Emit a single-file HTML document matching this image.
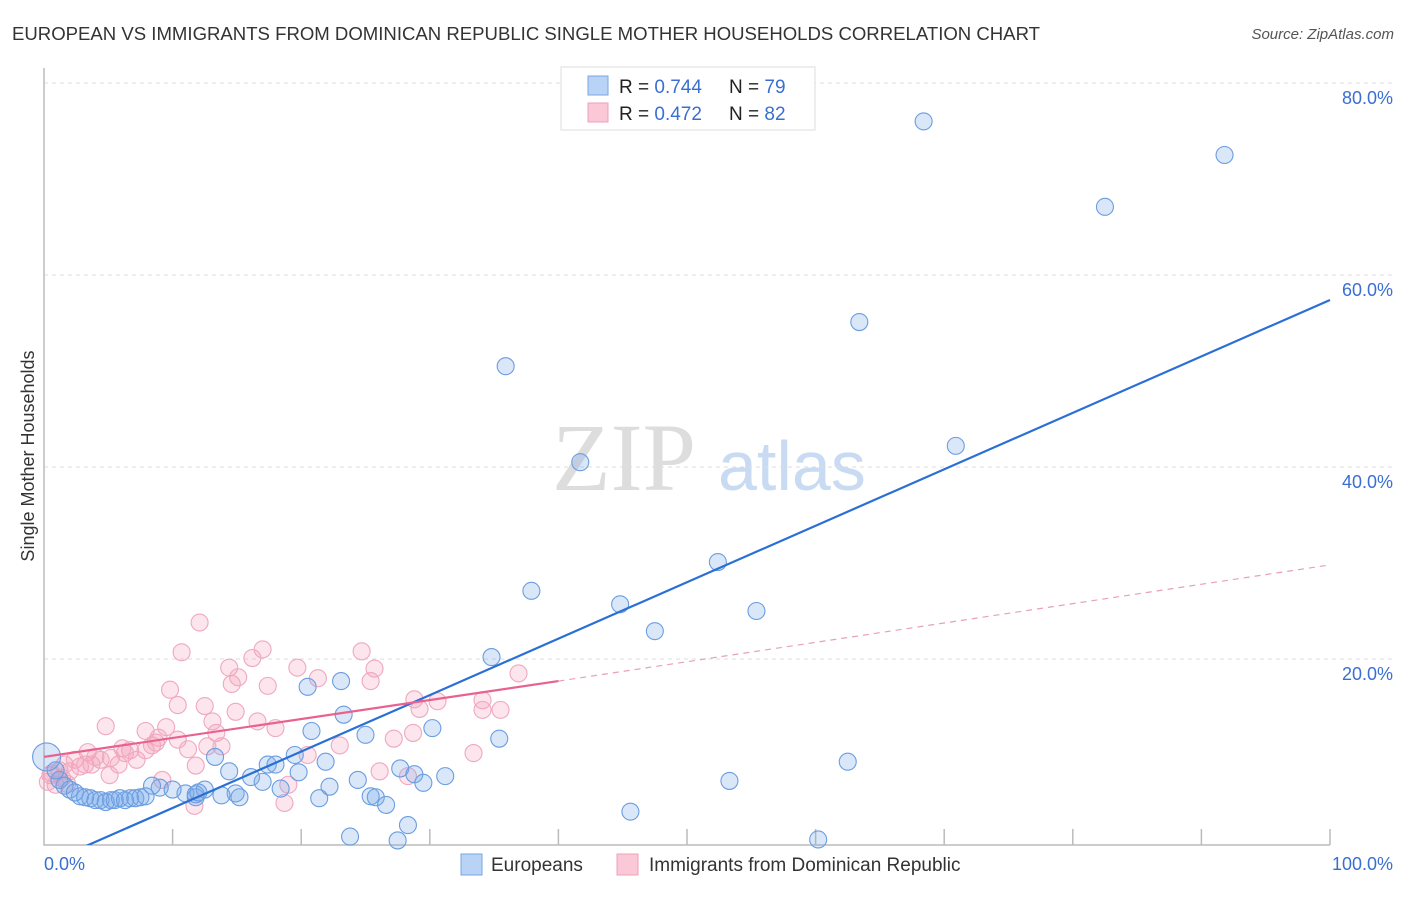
<!DOCTYPE html>
<html><head><meta charset="utf-8"><style>
body{margin:0;background:#fff;width:1406px;height:892px;overflow:hidden;font-family:"Liberation Sans",sans-serif}
</style></head><body>
<svg id="chart" width="1406" height="892" xmlns="http://www.w3.org/2000/svg" font-family="Liberation Sans, sans-serif">
<text x="12" y="40" font-size="18.5" fill="#333" textLength="1028" lengthAdjust="spacingAndGlyphs">EUROPEAN VS IMMIGRANTS FROM DOMINICAN REPUBLIC SINGLE MOTHER HOUSEHOLDS CORRELATION CHART</text>
<text x="1394" y="39" font-size="15" font-style="italic" fill="#555" text-anchor="end">Source: ZipAtlas.com</text>
<g>
<text x="552" y="490" font-size="96" font-family="Liberation Serif, serif" fill="#ddd">ZIP</text>
<text x="718" y="490" font-size="70" fill="#c9dbf2">atlas</text>
</g>
<g id="grid"></g>
<g id="axes"></g>
<g id="pts"></g>
<g id="lines"></g>
<text transform="translate(34,456) rotate(-90)" font-size="18" fill="#333" text-anchor="middle">Single Mother Households</text>
<text x="44" y="870" font-size="18" fill="#3a6fd0">0.0%</text>
<text x="1393" y="870" font-size="18" fill="#3a6fd0" text-anchor="end">100.0%</text>
<g>
<rect x="561" y="67" width="254" height="63" fill="#fff" stroke="#ddd"/>
<rect x="588" y="76" width="20" height="19" fill="#b8d3f5" stroke="#7aa7e0"/>
<rect x="588" y="103" width="20" height="19" fill="#fac8d6" stroke="#eea0b8"/>
<text x="619" y="93" font-size="19" fill="#222">R = <tspan fill="#3a6fd0">0.744</tspan></text>
<text x="729" y="93" font-size="19" fill="#222">N = <tspan fill="#3a6fd0">79</tspan></text>
<text x="619" y="120" font-size="19" fill="#222">R = <tspan fill="#3a6fd0">0.472</tspan></text>
<text x="729" y="120" font-size="19" fill="#222">N = <tspan fill="#3a6fd0">82</tspan></text>
</g>
<g>
<rect x="461" y="854" width="21" height="21" fill="#b8d3f5" stroke="#7aa7e0"/>
<text x="491" y="871" font-size="19" fill="#333">Europeans</text>
<rect x="617" y="854" width="21" height="21" fill="#fac8d6" stroke="#eea0b8"/>
<text x="649" y="871" font-size="19" fill="#333">Immigrants from Dominican Republic</text>
</g>
</svg>
<script>
const yTicks=[20,40,60,80];
const yTickLabels=["20.0%","40.0%","60.0%","80.0%"];
const xTicks=[10,20,30,40,50,60,70,80,90,100];
const euroX=[68.4,91.8,82.5,63.4,35.9,70.9,41.7,52.4,37.9,44.8,55.4,47.5,34.8,20.5,23.1,23.3,30.2,20.8,25.0,35.4,19.5,21.9,13.3,17.4,18.0,14.4,19.8,16.1,17.0,27.7,28.8,31.2,24.4,29.5,53.3,62.5,18.4,22.2,14.9,11.0,12.5,9.0,8.4,10.0,11.8,13.8,15.2,25.4,25.8,26.6,21.4,45.6,28.3,23.8,27.5,60.2,1.2,2.0,2.8,3.6,4.4,5.2,5.9,6.7,7.5,0.9,1.6,2.4,3.2,4.0,4.8,5.5,6.3,7.1,7.9,11.8,12.0];
const euroY=[76.0,72.5,67.1,55.1,50.5,42.2,40.5,30.1,27.1,25.7,25.0,22.9,20.2,17.1,17.7,14.2,12.8,12.5,12.1,11.7,10.0,9.3,9.8,9.0,9.0,8.3,8.2,7.7,7.2,8.6,8.0,7.8,7.4,7.1,7.3,9.3,6.5,6.7,6.0,6.0,6.4,6.6,6.8,6.4,5.6,5.8,5.6,5.7,5.6,4.8,5.5,4.1,2.7,1.5,1.1,1.2,7.4,6.4,5.7,5.5,5.3,5.3,5.5,5.5,5.6,8.4,6.8,6.1,5.6,5.3,5.1,5.3,5.3,5.5,5.7,5.9,6.1];
const domX=[12.1,10.7,17.0,24.7,16.2,14.4,19.7,21.3,25.7,9.8,15.1,14.6,25.4,17.4,12.5,10.4,28.8,30.6,34.1,36.9,29.2,34.1,35.5,4.8,9.5,13.1,16.6,18.0,14.9,7.9,8.9,8.4,10.4,11.2,13.4,12.7,13.8,23.0,28.7,27.2,20.5,6.1,6.7,7.2,5.8,4.4,3.7,3.4,5.1,11.8,26.1,9.2,11.7,18.7,19.0,28.3,33.4,1.2,0.5,0.9,1.6,2.0,2.8,2.4,3.2,4.0,5.2,7.9,8.7,6.3,0.3,1.4,1.8,0.6];
const domY=[23.8,20.7,21.0,20.8,20.1,19.1,19.1,18.0,19.0,16.8,18.1,17.4,17.7,17.2,15.1,15.2,15.8,15.6,15.7,18.5,14.8,14.7,14.7,13.0,12.9,13.5,13.5,12.8,14.5,12.5,11.8,11.0,11.6,10.6,12.3,10.9,10.9,11.0,12.3,11.7,10.0,10.7,10.5,9.5,9.0,9.5,9.0,10.3,7.9,8.9,8.3,7.4,4.7,5.0,6.9,7.8,10.2,8.4,7.9,6.9,9.0,8.3,8.8,9.5,9.0,9.8,9.7,10.5,11.3,10.2,7.2,7.6,7.0,8.1];
const euroTrend=[[0,-1.4],[100,57.4]];
const domTrendSolid=[[0,9.8],[40,17.7]];
const domTrendDash=[[40,17.7],[100,29.8]];
const NS='http://www.w3.org/2000/svg';
const X=v=>44+v*12.86, Y=v=>851-v*9.6;
function mk(tag,attrs,parent){const e=document.createElementNS(NS,tag);for(const k in attrs)e.setAttribute(k,attrs[k]);document.getElementById(parent).appendChild(e);return e;}
yTicks.forEach((t,i)=>{
 const g=mk('line',{x1:44,x2:1394,y1:Y(t),y2:Y(t),stroke:'#ddd','stroke-dasharray':'4,4'},'grid');
 
 
 const l=mk('text',{x:1393,y:Y(t)+21,'font-size':18,fill:'#3a6fd0','text-anchor':'end'},'grid');
 l.textContent=yTickLabels[i];
 
 
});
const ax=mk('path',{d:'M44 68 V845 H1330',stroke:'#bbb',fill:'none','stroke-width':1.5},'axes');


xTicks.forEach(t=>{
 const k=mk('line',{x1:X(t),x2:X(t),y1:829,y2:845,stroke:'#bbb','stroke-width':1.5},'axes');
 
 
});
domX.forEach((x,i)=>{
 const c=mk('circle',{cx:X(x),cy:Y(domY[i]),r:8.5,fill:'rgba(244,160,188,0.28)',stroke:'#efa8bf','stroke-width':1.1},'pts');
 
 
});
euroX.forEach((x,i)=>{
 const c=mk('circle',{cx:X(x),cy:Y(euroY[i]),r:8.5,fill:'rgba(120,170,232,0.28)',stroke:'#6b9de0','stroke-width':1.1},'pts');
 
 
});
const big=mk('circle',{cx:X(0.2),cy:Y(9.8),r:14,fill:'rgba(120,170,232,0.28)',stroke:'#6b9de0','stroke-width':1.1},'pts');


function line(p,st,w,dash,name){
 const a={x1:X(p[0][0]),y1:Y(p[0][1]),x2:X(p[1][0]),y2:Y(p[1][1]),stroke:st,'stroke-width':w};
 if(dash)a['stroke-dasharray']=dash;
 const l=mk('line',a,'lines');
 
 
}
const clip=mk('clipPath',{id:'pc'},'lines');mk('rect',{x:44,y:68,width:1300,height:777},'pc');
document.getElementById('lines').setAttribute('clip-path','url(#pc)');
line(euroTrend,'#2a6fd6',2.2,null,'european-trend-line');
line(domTrendSolid,'#e8628f',2.2,null,'dominican-trend-line');
line(domTrendDash,'#e8a0b8',1.2,'6,5','dominican-trend-extension');
</script>
</body></html>
